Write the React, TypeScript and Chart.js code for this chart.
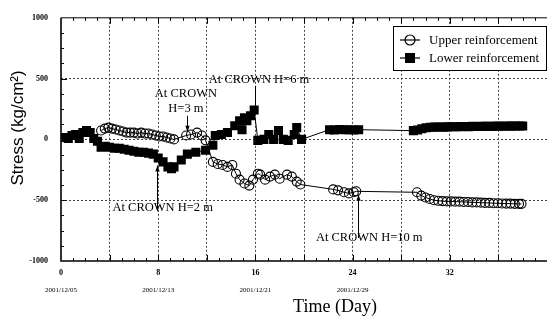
import React, { useEffect, useRef } from 'react';
import { Chart, registerables } from 'chart.js';

Chart.register(...registerables);

// ---- data ----
const upperDays = [
  3.3, 3.6, 3.9, 4.2, 4.5, 4.8, 5.1, 5.4, 5.7, 6.0, 6.3, 6.6, 6.9, 7.2, 7.5, 7.8, 8.1, 8.4, 8.7, 9.0, 9.3,
  10.3, 10.7, 11.2, 11.6, 11.9,
  12.5, 12.9, 13.3, 13.7, 14.1, 14.4, 14.7, 15.1, 15.5, 15.8, 16.2, 16.4, 16.8, 17.2, 17.6, 18.0, 18.6, 19.0, 19.4, 19.7,
  22.4, 22.8, 23.3, 23.7, 24.1, 24.3,
  29.3, 29.65, 30.0, 30.35, 30.7, 31.05, 31.4, 31.75, 32.1, 32.45, 32.8, 33.15, 33.5, 33.85, 34.2, 34.55, 34.9, 35.25,
  35.6, 35.95, 36.3, 36.65, 37.0, 37.35, 37.7, 37.9,
];
const upperValues = [
  73, 89, 97, 89, 81, 73, 65, 56, 56, 56, 48, 56, 48, 48, 40, 32, 24, 24, 16, 8, 0,
  32, 40, 56, 32, -8,
  -185, -202, -210, -226, -210, -282, -331, -363, -380, -331, -282, -290, -331, -306, -290, -323, -290, -306, -347, -371,
  -411, -419, -435, -444, -435, -427,
  -435, -462, -478, -490, -500, -505, -508, -510, -510, -512, -512, -515, -515, -518, -518, -520, -522, -522,
  -525, -525, -527, -528, -528, -530, -530, -530,
];

const lowerDays = [
  0, 0.3, 0.6, 0.9, 1.2, 1.5, 1.8, 2.1, 2.4, 2.7, 3.0, 3.3, 3.6, 4.0, 4.4, 4.8, 5.2, 5.6, 6.0, 6.4, 6.8, 7.2, 7.6,
  8.0, 8.4, 8.8, 9.1, 9.3, 9.9, 10.4, 11.1, 11.9, 12.5, 12.7, 13.2, 13.7, 14.3, 14.7, 14.9, 15.1, 15.3, 15.6, 15.9,
  16.2, 16.7, 17.1, 17.5, 17.9, 18.3, 18.7, 19.2, 19.4, 19.8,
  22.1, 22.5, 22.9, 23.3, 23.7, 24.1, 24.5,
  29.0, 29.35, 29.7, 30.05, 30.4, 30.75, 31.1, 31.45, 31.8, 32.15, 32.5, 32.85, 33.2, 33.55, 33.9, 34.25, 34.6,
  34.95, 35.3, 35.65, 36.0, 36.35, 36.7, 37.05, 37.4, 37.75, 38.0,
];
const lowerValues = [
  16, 16, 8, 32, 40, 8, 56, 73, 56, 8, -16, -65, -56, -65, -73, -73, -81, -89, -97, -105, -105, -113, -121,
  -153, -185, -226, -242, -226, -169, -121, -105, -89, -48, 32, 40, 56, 113, 153, 80, 177, 153, 194, 242,
  -8, 0, 40, 0, 73, 0, -8, 40, 97, 0,
  80, 78, 82, 80, 80, 78, 80,
  72, 78, 88, 96, 100, 101, 102, 101, 103, 104, 104, 105, 106, 105, 107, 106, 107,
  108, 107, 108, 109, 108, 110, 109, 110, 110, 110,
];

const seriesLabels = ['Upper reinforcement', 'Lower reinforcement'];
const xGridDays = [0, 4, 8, 12, 16, 20, 24, 28, 32, 36, 40];
const xLabelDays = [0, 8, 16, 24, 32];
const xTickLabels = ['0', '8', '16', '24', '32'];
const dateLabels = ['2001/12/05', '2001/12/13', '2001/12/21', '2001/12/29'];
const yTickValues = [-1000, -500, 0, 500, 1000];
const xTitle = 'Time (Day)';
const yTitle = 'Stress (kg/cm\u00B2)';

// annotation texts, anchored in data units
const notes = [
  { lines: ['At CROWN', 'H=3 m'], day: 10.28, values: [379, 250], arrow: { day: 10.33, from: 195, to: 62, head: 'end' } },
  { lines: ['At CROWN H=6 m'], day: 16.3, values: [492], arrow: { day: 15.93, from: 440, to: 225, head: 'none' } },
  { lines: ['At CROWN H=2 m'], day: 8.37, values: [-565], arrow: { day: 7.93, from: -590, to: -215, head: 'end' } },
  { lines: ['At CROWN H=10 m'], day: 25.37, values: [-806], arrow: { day: 24.47, from: -810, to: -455, head: 'end' } },
];

const SERIF = '"Liberation Serif", "Times New Roman", serif';
const SANS = '"Liberation Sans", Arial, sans-serif';

function drawArrow(ctx: CanvasRenderingContext2D, x: number, y1: number, y2: number, head: string) {
  ctx.beginPath();
  ctx.moveTo(x, y1);
  ctx.lineTo(x, y2);
  ctx.stroke();
  if (head === 'end') {
    const dir = y2 > y1 ? 1 : -1;
    ctx.beginPath();
    ctx.moveTo(x, y2);
    ctx.lineTo(x - 2.2, y2 - dir * 6);
    ctx.lineTo(x + 2.2, y2 - dir * 6);
    ctx.closePath();
    ctx.fill();
  }
}

const decorPlugin = {
  id: 'decor',
  afterDraw(chart: any) {
    const { ctx, chartArea: a, scales } = chart;
    const x = scales.x;
    const y = scales.y;
    ctx.save();
    ctx.strokeStyle = '#000';
    ctx.fillStyle = '#000';

    // frame
    ctx.lineWidth = 1;
    ctx.beginPath();
    ctx.moveTo(a.left, a.top);
    ctx.lineTo(a.right, a.top);
    ctx.stroke();
    ctx.lineWidth = 1.6;
    ctx.beginPath();
    ctx.moveTo(a.left, a.top);
    ctx.lineTo(a.left, a.bottom);
    ctx.lineTo(a.right, a.bottom);
    ctx.stroke();

    // inward tick marks
    ctx.lineWidth = 1;
    for (let d = 1; d < 40; d++) {
      const px = Math.round(x.getPixelForValue(d)) + 0.5;
      const len = d % 4 === 0 ? 6 : 3;
      ctx.beginPath();
      ctx.moveTo(px, a.bottom);
      ctx.lineTo(px, a.bottom - len);
      ctx.moveTo(px, a.top);
      ctx.lineTo(px, a.top + len);
      ctx.stroke();
    }
    for (let v = -875; v < 1000; v += 125) {
      const py = Math.round(y.getPixelForValue(v)) + 0.5;
      const len = v % 500 === 0 ? 6 : 3;
      ctx.beginPath();
      ctx.moveTo(a.left, py);
      ctx.lineTo(a.left + len, py);
      ctx.stroke();
    }

    // date labels under the day ticks
    ctx.font = `7px ${SERIF}`;
    ctx.textAlign = 'center';
    ctx.textBaseline = 'middle';
    dateLabels.forEach((t, i) => {
      ctx.fillText(t, x.getPixelForValue(xLabelDays[i]), 290);
    });

    // axis titles
    ctx.font = `18px ${SERIF}`;
    ctx.fillText(xTitle, 335, 307);
    ctx.save();
    ctx.translate(18, 128);
    ctx.rotate(-Math.PI / 2);
    ctx.font = `17px ${SANS}`;
    ctx.fillText(yTitle, 0, 0);
    ctx.restore();

    // annotations
    ctx.font = `12.5px ${SERIF}`;
    ctx.lineWidth = 1;
    notes.forEach((n) => {
      const tx = x.getPixelForValue(n.day);
      n.lines.forEach((line, i) => {
        ctx.fillText(line, tx, y.getPixelForValue(n.values[i]));
      });
      const ax = Math.round(x.getPixelForValue(n.arrow.day)) + 0.5;
      drawArrow(ctx, ax, y.getPixelForValue(n.arrow.from), y.getPixelForValue(n.arrow.to), n.arrow.head);
    });

    // legend
    const bx = 393, by = 26, bw = 153, bh = 44;
    ctx.fillStyle = '#fff';
    ctx.fillRect(bx, by, bw, bh);
    ctx.strokeStyle = '#000';
    ctx.lineWidth = 1;
    ctx.strokeRect(bx + 0.5, by + 0.5, bw, bh);
    ctx.fillStyle = '#000';
    ctx.font = `13px ${SERIF}`;
    ctx.textAlign = 'left';
    const rows = [40, 58];
    chart.data.datasets.forEach((ds: any, i: number) => {
      const ry = rows[i];
      ctx.lineWidth = 1.2;
      ctx.beginPath();
      ctx.moveTo(400, ry);
      ctx.lineTo(420, ry);
      ctx.stroke();
      if (i === 0) {
        ctx.beginPath();
        ctx.arc(410, ry, 5, 0, Math.PI * 2);
        ctx.stroke();
      } else {
        ctx.fillRect(405, ry - 5, 10, 10);
      }
      ctx.fillText(ds.label, 429, ry + 0.5);
    });

    ctx.restore();
  },
};

export default function App() {
  const ref = useRef<HTMLCanvasElement | null>(null);

  useEffect(() => {
    if (!ref.current) return;
    const upper = upperDays.map((d, i) => ({ x: d, y: upperValues[i] }));
    const lower = lowerDays.map((d, i) => ({ x: d, y: lowerValues[i] }));
    const chart = new Chart(ref.current, {
      type: 'scatter',
      data: {
        datasets: [
          {
            label: seriesLabels[0],
            data: upper,
            showLine: true,
            borderColor: '#000',
            borderWidth: 1,
            pointStyle: 'circle',
            pointRadius: 4.5,
            pointBorderWidth: 1.1,
            pointBackgroundColor: 'rgba(0,0,0,0)',
            pointBorderColor: '#000',
          },
          {
            label: seriesLabels[1],
            data: lower,
            showLine: true,
            borderColor: '#000',
            borderWidth: 1,
            pointStyle: 'rect',
            pointRadius: 6.4,
            pointBorderWidth: 0,
            pointBackgroundColor: '#000',
            pointBorderColor: '#000',
          },
        ],
      },
      options: {
        animation: false,
        responsive: true,
        maintainAspectRatio: false,
        layout: { padding: { top: 13, right: 1, left: 0, bottom: 0 } },
        plugins: { legend: { display: false }, tooltip: { enabled: false } },
        scales: {
          x: {
            type: 'linear',
            min: 0,
            max: 40,
            afterBuildTicks: (s: any) => {
              s.ticks = xGridDays.map((v) => ({ value: v }));
            },
            afterFit: (s: any) => {
              s.height = 62;
            },
            ticks: {
              autoSkip: false,
              maxRotation: 0,
              padding: 7,
              color: '#000',
              font: { family: SERIF, size: 8, weight: 'bold' },
              callback: (v: any) => {
                const i = xLabelDays.indexOf(Number(v));
                return i >= 0 ? xTickLabels[i] : '';
              },
            },
            grid: {
              drawTicks: false,
              lineWidth: 1,
              color: (c: any) => (c.tick && c.tick.value > 0 && c.tick.value < 40 ? '#444' : 'rgba(0,0,0,0)'),
            },
            border: { display: false, dash: [2, 2] },
          },
          y: {
            type: 'linear',
            min: -1000,
            max: 1000,
            afterBuildTicks: (s: any) => {
              s.ticks = yTickValues.map((v) => ({ value: v }));
            },
            afterFit: (s: any) => {
              s.width = 61;
            },
            ticks: {
              padding: 13,
              color: '#000',
              font: { family: SERIF, size: 8, weight: 'bold' },
              callback: (v: any) => String(v),
            },
            grid: {
              drawTicks: false,
              lineWidth: 1,
              color: (c: any) =>
                c.tick && c.tick.value > -1000 && c.tick.value < 1000 ? '#444' : 'rgba(0,0,0,0)',
            },
            border: { display: false, dash: [2, 2] },
          },
        },
      },
      plugins: [decorPlugin],
    } as any);
    return () => chart.destroy();
  }, []);

  return (
    <div style={{ position: 'absolute', left: 0, top: 0, width: 554, height: 323, background: '#fff' }}>
      <canvas ref={ref} />
    </div>
  );
}
